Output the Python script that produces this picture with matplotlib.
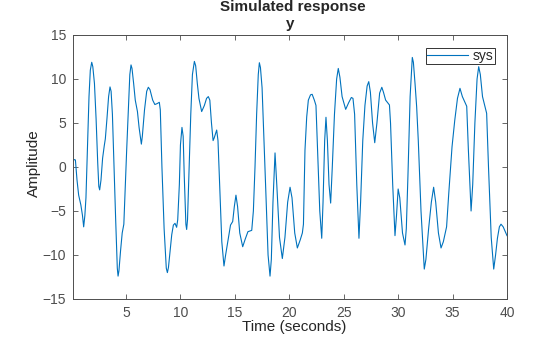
import matplotlib
matplotlib.use("Agg")
import matplotlib.pyplot as plt

plt.rcParams['font.family'] = ['Liberation Sans', 'DejaVu Sans']

# Simulated output y(t) of system "sys"
time_s = [
    0.13, 0.22, 0.35, 0.5, 0.65, 0.85, 1.0, 1.11, 1.22, 1.32, 1.45, 1.6, 1.72, 1.85, 1.95,
    2.1, 2.25, 2.4, 2.5, 2.58, 2.7, 2.85, 3.0, 3.1, 3.25, 3.4, 3.53, 3.63, 3.75, 3.9,
    4.05, 4.2, 4.27, 4.35, 4.5, 4.65, 4.8, 5.06, 5.2, 5.35, 5.46, 5.55, 5.7, 5.85, 6.05,
    6.2, 6.41, 6.5, 6.7, 6.9, 7.05, 7.2, 7.45, 7.65, 7.85, 8.06, 8.15, 8.3, 8.5, 8.7,
    8.8, 8.9, 9.05, 9.2, 9.35, 9.5, 9.65, 9.75, 9.9, 10.0, 10.14, 10.25, 10.35, 10.5, 10.57,
    10.65, 10.8, 10.95, 11.1, 11.28, 11.4, 11.55, 11.7, 11.95, 12.2, 12.4, 12.56, 12.7, 12.85, 13.0,
    13.1, 13.33, 13.45, 13.6, 13.8, 14.0, 14.15, 14.4, 14.6, 14.8, 14.95, 15.1, 15.25, 15.45, 15.72,
    15.95, 16.2, 16.55, 16.7, 16.85, 17.0, 17.15, 17.25, 17.35, 17.5, 17.65, 17.85, 18.05, 18.23, 18.35,
    18.5, 18.69, 18.85, 19.1, 19.36, 19.6, 19.85, 20.07, 20.25, 20.5, 20.74, 21.0, 21.2, 21.3, 21.44,
    21.6, 21.75, 21.95, 22.1, 22.3, 22.45, 22.6, 22.8, 22.98, 23.1, 23.25, 23.37, 23.5, 23.65, 23.8,
    23.95, 24.15, 24.35, 24.5, 24.65, 24.85, 25.18, 25.45, 25.7, 25.85, 26.0, 26.2, 26.4, 26.55, 26.75,
    26.95, 27.15, 27.3, 27.45, 27.65, 27.85, 28.05, 28.3, 28.5, 28.65, 28.85, 29.2, 29.3, 29.5, 29.71,
    29.85, 30.0, 30.15, 30.4, 30.63, 30.75, 30.9, 31.1, 31.3, 31.4, 31.55, 31.7, 31.85, 32.1, 32.4,
    32.55, 32.8, 33.05, 33.26, 33.45, 33.7, 33.94, 34.15, 34.45, 34.65, 34.95, 35.2, 35.45, 35.68, 35.9,
    36.15, 36.3, 36.45, 36.7, 36.85, 37.05, 37.25, 37.4, 37.55, 37.75, 38.13, 38.3, 38.55, 38.78, 38.95,
    39.12, 39.3, 39.45, 39.65, 40.0,
]
amplitude = [
    0.6, 0.85, 0.8, -1.5, -3.2, -4.3, -5.5, -6.8, -5.5, -3.5, 2.0, 8.0, 11.0, 11.9, 11.4,
    9.5, 5.5, 0.5, -2.2, -2.6, -1.5, 1.0, 2.4, 3.2, 5.5, 8.0, 9.1, 8.6, 6.0, 0.0,
    -6.0, -11.5, -12.4, -11.8, -9.5, -7.5, -6.5, 1.9, 6.0, 10.5, 11.6, 11.2, 9.5, 7.6, 6.3,
    4.5, 2.6, 3.5, 6.5, 8.6, 9.06, 8.8, 7.6, 7.1, 7.2, 7.35, 6.5, 0.0, -7.0, -11.5,
    -12.0, -11.4, -9.5, -7.7, -6.6, -6.4, -6.85, -6.0, -2.0, 2.5, 4.5, 3.5, -1.0, -6.5, -7.1,
    -6.0, 0.0, 6.0, 10.5, 12.0, 11.5, 9.5, 7.8, 6.3, 7.0, 7.8, 8.0, 7.6, 5.0, 3.0,
    3.3, 4.2, 3.0, -2.0, -8.5, -11.25, -10.0, -8.1, -6.6, -6.2, -4.5, -3.2, -4.5, -7.5, -9.06,
    -8.2, -7.35, -7.2, -5.0, 0.0, 6.0, 10.5, 11.85, 11.3, 9.0, 4.0, -3.0, -10.0, -12.4, -10.5,
    -4.0, 1.6, -2.0, -8.0, -10.4, -8.0, -4.0, -2.3, -3.5, -7.5, -9.2, -8.3, -7.5, -6.5, 1.9,
    5.7, 7.6, 8.2, 8.26, 7.6, 7.0, 2.0, -5.0, -8.1, -4.0, 3.0, 5.65, 3.0, -2.0, -4.1,
    0.0, 6.0, 10.0, 11.2, 10.2, 8.0, 6.55, 7.3, 7.9, 7.8, 6.0, -2.0, -8.1, -4.0, 3.0,
    7.0, 9.2, 9.7, 8.5, 5.0, 2.76, 5.0, 8.4, 9.06, 8.5, 7.6, 7.05, 5.0, -2.0, -7.8,
    -5.5, -2.5, -3.5, -7.5, -8.86, -7.0, -1.0, 8.0, 12.45, 11.9, 9.5, 6.85, 3.0, -5.0, -11.6,
    -10.5, -7.0, -4.0, -2.3, -4.0, -7.5, -9.2, -8.5, -6.8, -3.0, 2.3, 5.3, 7.8, 8.94, 8.0,
    7.3, 6.9, 2.0, -5.0, -2.0, 5.0, 10.0, 11.4, 10.5, 8.0, 6.1, 0.0, -8.0, -11.6, -10.0,
    -8.1, -6.8, -6.5, -6.8, -7.8,
]
x_ticks = [5, 10, 15, 20, 25, 30, 35, 40]
y_ticks = [-15, -10, -5, 0, 5, 10, 15]

axis_grey = '#4d4d4d'
text_dark = '#262626'
line_blue = '#0072BD'

fig = plt.figure(figsize=(5.6, 3.37), dpi=100)
ax = fig.add_axes([73 / 560, 1 - 299 / 337, (507 - 73) / 560, (299 - 35) / 337])

ax.plot(time_s, amplitude, color=line_blue, linewidth=0.8, label='sys')

ax.set_xlim(0.13, 40)
ax.set_ylim(-15, 15)
ax.set_xticks(x_ticks)
ax.set_yticks(y_ticks)
ax.tick_params(direction='in', top=True, right=True, length=3.5, width=0.6,
               colors=axis_grey, labelsize=10, pad=5)
for s in ax.spines.values():
    s.set_color(axis_grey)
    s.set_linewidth(0.7)

ax.set_xlabel('Time (seconds)', fontsize=11, color=text_dark)
ax.xaxis.set_label_coords(0.5 + 4 / 434, -28 / 264, transform=ax.transAxes)
ax.xaxis.label.set_va('center')
ax.set_ylabel('Amplitude', fontsize=11, color=text_dark)
ax.yaxis.set_label_coords(-39 / 434, 0.5 + 4 / 264, transform=ax.transAxes)
ax.yaxis.label.set_va('center')

fig.text(0.523, 0.999, 'Simulated response', ha='center', va='top',
         fontsize=11, fontweight='bold', color=text_dark)
fig.text(0.519, 0.93, 'y', ha='center', va='center',
         fontsize=11, fontweight='bold', color=text_dark)

leg = ax.legend(loc='upper right', fontsize=10, frameon=True, fancybox=False,
                borderpad=0.08, handlelength=3.0, handletextpad=0.3,
                borderaxespad=0.9, labelspacing=0.1)
leg.get_frame().set_edgecolor('#000000')
leg.get_frame().set_linewidth(0.7)
for t in leg.get_texts():
    t.set_color(text_dark)

fig.savefig('out.png', dpi=100)
